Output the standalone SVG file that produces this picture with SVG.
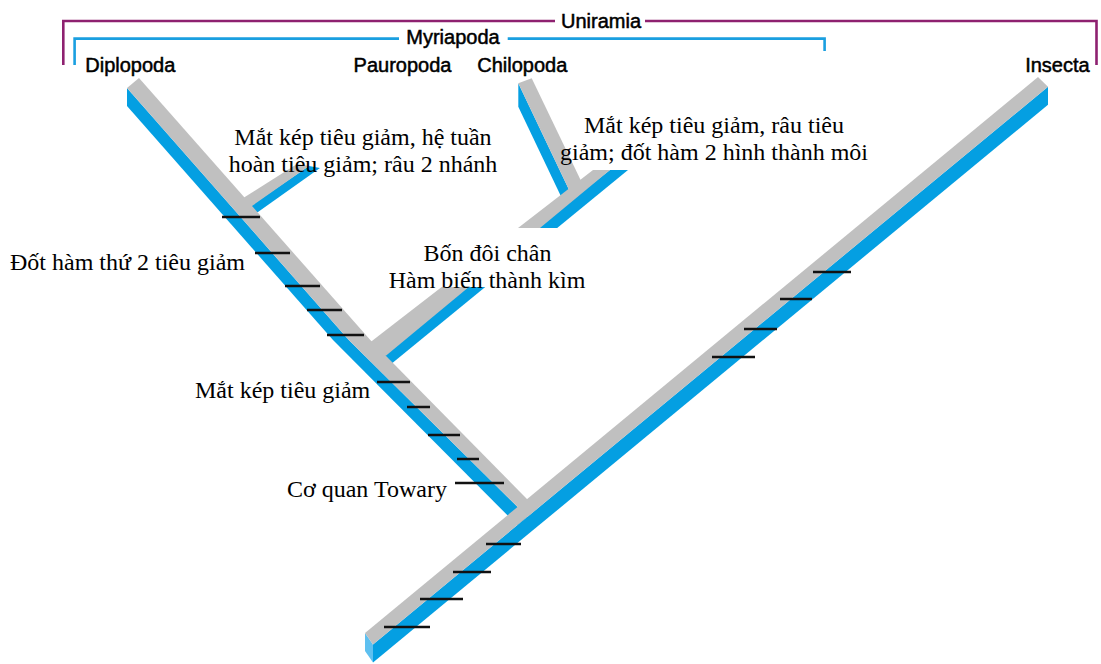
<svg xmlns="http://www.w3.org/2000/svg" width="1101" height="664" viewBox="0 0 1101 664">
<defs>
<style>
.g{fill:#c0c0c0}
.b{fill:#049fe2}
.bf{fill:#5ec0f0}
.tk{stroke:#111;stroke-width:2.5;fill:none}
.br1{stroke:#8e2170;stroke-width:2.6;fill:none}
.br2{stroke:#1a9fe0;stroke-width:2.6;fill:none}
.tax{font-family:"Liberation Sans",Arial,sans-serif;font-size:20px;fill:#000;stroke:#000;stroke-width:0.5;text-anchor:middle}
.lab{font-family:"Liberation Serif","Times New Roman",serif;font-size:24px;fill:#000}
.mid{text-anchor:middle}
</style>
<clipPath id="cutBox"><path clip-rule="evenodd" d="M0 0H1101V664H0Z M380 228H600V287H380Z"/></clipPath>
</defs>
<rect x="0" y="0" width="1101" height="664" fill="#fff"/>

<g id="connectors">
  <g id="beam-blue">
    <polygon class="b" points="373,644.4 1048,86.7 1048,104.7 373,662.4"/>
    <polygon class="bf" points="365,633 373,644.4 373,662.4 365,651"/>
    <polygon class="b" points="127,88 127,106 333,340 348.8,340"/>
    <polygon class="b" points="333,340 348.8,340 527.5,516.7 517.3,525.2"/>
    <polygon class="b" points="246,209 309,166 320,168 258,212 250,214"/>
    <polygon class="b" clip-path="url(#cutBox)" points="376,352 610,170 628,170 392.7,362.7 384,366"/>
    <polygon class="b" points="518.3,83.3 518.3,106.7 563.2,201 571.5,195"/>
  </g>
  <g id="beam-gray">
    <polygon class="g" points="127,88 139,78 370.3,340 348.8,340"/>
    <polygon class="g" points="348.8,340 370.3,340 536.8,509 527.5,516.7"/>
    <polygon class="g" points="240,200 297,164 309,166 252,206 246,208"/>
    <polygon class="g" clip-path="url(#cutBox)" points="368,344 593,170 610,170 385.9,355.8 372,352"/>
    <polygon class="g" points="518.3,83.3 531.7,78.3 583,185 571.5,195"/>
    <polygon class="g" points="365,633 1038,77 1048,86.7 373,644.4"/>
  </g>
  <g id="ticks">
    <line class="tk" x1="222" y1="217" x2="260" y2="217"/>
    <line class="tk" x1="255" y1="253" x2="290" y2="253"/>
    <line class="tk" x1="285" y1="286" x2="320" y2="286"/>
    <line class="tk" x1="307" y1="310" x2="342" y2="310"/>
    <line class="tk" x1="327" y1="335" x2="364" y2="335"/>
    <line class="tk" x1="377" y1="382" x2="410" y2="382"/>
    <line class="tk" x1="407" y1="407" x2="430" y2="407"/>
    <line class="tk" x1="428" y1="435" x2="460" y2="435"/>
    <line class="tk" x1="457" y1="459" x2="479" y2="459"/>
    <line class="tk" x1="455" y1="483" x2="504" y2="483"/>
    <line class="tk" x1="486" y1="544" x2="521" y2="544"/>
    <line class="tk" x1="453" y1="572" x2="491" y2="572"/>
    <line class="tk" x1="420" y1="599" x2="463" y2="599"/>
    <line class="tk" x1="384" y1="627" x2="430" y2="627"/>
    <line class="tk" x1="813" y1="272" x2="851" y2="272"/>
    <line class="tk" x1="780" y1="299" x2="812" y2="299"/>
    <line class="tk" x1="744" y1="329" x2="777" y2="329"/>
    <line class="tk" x1="712" y1="357" x2="755" y2="357"/>
  </g>
  <g id="brackets">
    <polyline class="br1" points="63.3,65 63.3,21 555,21"/>
    <polyline class="br1" points="645,21 1096.5,21 1096.5,65"/>
    <polyline class="br2" points="74.6,65 74.6,38.6 399,38.6"/>
    <polyline class="br2" points="507.7,38.6 824.6,38.6 824.6,51"/>
  </g>
</g>

<g id="node-uniramia"><text class="tax" x="601" y="28">Uniramia</text></g>
<g id="node-myriapoda"><text class="tax" x="453" y="44">Myriapoda</text></g>
<g id="node-diplopoda"><text class="tax" x="130.3" y="72">Diplopoda</text></g>
<g id="node-pauropoda"><text class="tax" x="402.5" y="72">Pauropoda</text></g>
<g id="node-chilopoda"><text class="tax" x="522.3" y="72">Chilopoda</text></g>
<g id="node-insecta"><text class="tax" x="1057.4" y="72">Insecta</text></g>

<g id="label-pauropoda-traits">
  <text class="lab mid" x="363" y="145">Mắt kép tiêu giảm, hệ tuần</text>
  <text class="lab mid" x="363" y="172">hoàn tiêu giảm; râu 2 nhánh</text>
</g>
<g id="label-chilopoda-traits">
  <text class="lab mid" x="714" y="133">Mắt kép tiêu giảm, râu tiêu</text>
  <text class="lab mid" x="714" y="160">giảm; đốt hàm 2 hình thành môi</text>
</g>
<g id="label-dot-ham"><text class="lab" x="10" y="270">Đốt hàm thứ 2 tiêu giảm</text></g>
<g id="label-bon-doi-chan">
  <text class="lab mid" x="487.5" y="261">Bốn đôi chân</text>
  <text class="lab mid" x="487" y="288">Hàm biến thành kìm</text>
</g>
<g id="label-mat-kep"><text class="lab" x="195" y="398">Mắt kép tiêu giảm</text></g>
<g id="label-towary"><text class="lab" x="287" y="497">Cơ quan Towary</text></g>
</svg>
